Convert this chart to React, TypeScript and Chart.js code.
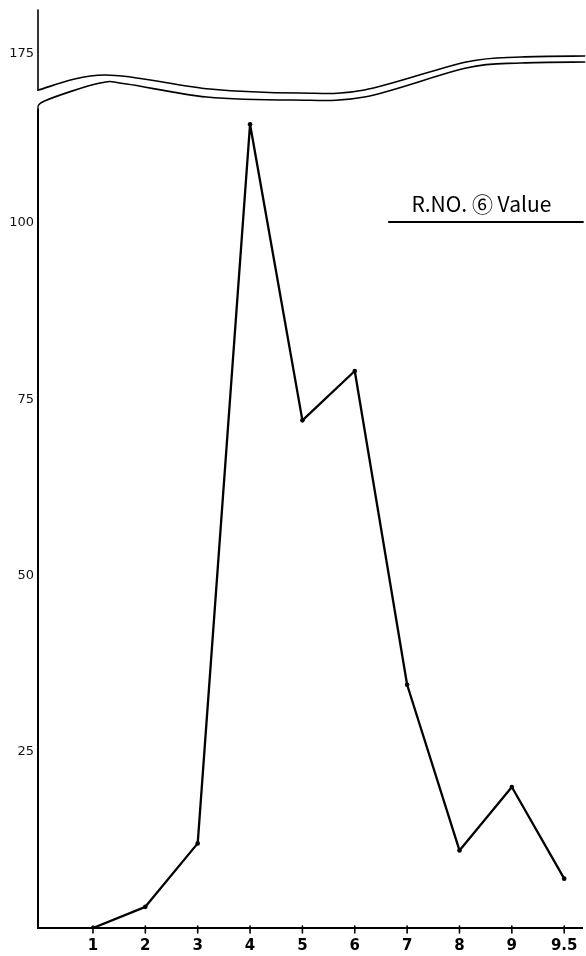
import React, { useEffect, useRef } from "react";
import { Chart, registerables } from "chart.js";

Chart.register(...registerables);

// ---- data ----
const X_LABELS = ["1", "2", "3", "4", "5", "6", "7", "8", "9", "9.5"];
const VALUES = [0, 3, 12, 114, 72, 79, 34.5, 11, 20, 7];
const Y_TICK_VALUES = [25, 50, 75, 100, 175];
const TITLE = "R.NO. ⑥ Value";
// axis break: values above BREAK_AT are drawn shifted down by BREAK_SHIFT
const BREAK_AT = 120;
const BREAK_SHIFT = 51;

const toAxis = (v: number) => (v > BREAK_AT ? v - BREAK_SHIFT : v);
const fromAxis = (v: number) => (v > 118 ? v + BREAK_SHIFT : v);

// break wave shapes: [fraction of chart width, offset below chart top]
const WAVE_UPPER: [number, number][] = [
  [0, 80], [0.123, 65], [0.316, 79], [0.48, 83], [0.6, 80], [0.787, 52], [0.888, 47], [1.005, 46],
];
const WAVE_LOWER: [number, number][] = [
  [0, 100], [0.012, 91], [0.114, 73], [0.163, 74], [0.31, 87], [0.468, 90], [0.6, 87], [0.787, 58], [0.888, 53], [1.005, 52],
];

function smoothPath(ctx: CanvasRenderingContext2D, pts: [number, number][]) {
  ctx.beginPath();
  ctx.moveTo(pts[0][0], pts[0][1]);
  for (let i = 0; i < pts.length - 1; i++) {
    const p0 = pts[Math.max(0, i - 1)];
    const p1 = pts[i];
    const p2 = pts[i + 1];
    const p3 = pts[Math.min(pts.length - 1, i + 2)];
    const c1x = p1[0] + (p2[0] - p0[0]) / 6;
    const c1y = p1[1] + (p2[1] - p0[1]) / 6;
    const c2x = p2[0] - (p3[0] - p1[0]) / 6;
    const c2y = p2[1] - (p3[1] - p1[1]) / 6;
    ctx.bezierCurveTo(c1x, c1y, c2x, c2y, p2[0], p2[1]);
  }
  ctx.stroke();
}

const decorPlugin = {
  id: "decor",
  afterDraw(chart: any) {
    const { ctx, chartArea } = chart;
    const L = chartArea.left;
    const T = chartArea.top;
    const B = chartArea.bottom;
    const W = chartArea.right - chartArea.left;
    ctx.save();
    ctx.strokeStyle = "#000";
    ctx.lineCap = "round";
    ctx.lineJoin = "round";
    // y axis, upper piece and lower piece
    ctx.lineWidth = 1.6;
    ctx.beginPath();
    ctx.moveTo(L, T);
    ctx.lineTo(L, T + 80);
    ctx.stroke();
    ctx.lineWidth = 2;
    ctx.beginPath();
    ctx.moveTo(L, B);
    ctx.lineTo(L, T + 100);
    ctx.stroke();
    // break waves
    ctx.lineWidth = 1.6;
    const map = (w: [number, number][]) => w.map(([f, o]) => [L + f * W, T + o] as [number, number]);
    smoothPath(ctx, map(WAVE_UPPER));
    smoothPath(ctx, map(WAVE_LOWER));

    // title with underline
    ctx.fillStyle = "#000";
    ctx.font = "21px 'Noto Sans CJK JP', 'DejaVu Sans', sans-serif";
    ctx.textAlign = "center";
    ctx.textBaseline = "middle";
    const cx = L + 0.815 * W;
    ctx.fillText(TITLE, cx, T + 194);
    ctx.lineWidth = 1.8;
    ctx.beginPath();
    ctx.moveTo(L + 0.645 * W, T + 212);
    ctx.lineTo(chartArea.right + 1, T + 212);
    ctx.stroke();

    // x axis tick marks
    const xs = chart.scales.x;
    ctx.lineWidth = 1.6;
    for (let i = 0; i < X_LABELS.length; i++) {
      const px = xs.getPixelForValue(i);
      ctx.beginPath();
      ctx.moveTo(px, B - 2);
      ctx.lineTo(px, B + 5);
      ctx.stroke();
    }
    ctx.restore();
  },
};

export default function App() {
  const ref = useRef<HTMLCanvasElement | null>(null);

  useEffect(() => {
    document.body.style.margin = "0";
    const canvas = ref.current;
    if (!canvas) return;
    const chart = new Chart(canvas, {
      type: "line",
      data: {
        datasets: [
          {
            data: VALUES.map((v, i) => ({ x: i, y: v })),
            borderColor: "#000",
            backgroundColor: "#000",
            borderWidth: 2.3,
            borderJoinStyle: "round",
            pointRadius: 2.3,
            pointBackgroundColor: "#000",
            pointBorderWidth: 0,
            tension: 0,
          },
        ],
      },
      options: {
        responsive: false,
        animation: false,
        devicePixelRatio: 1,
        layout: { padding: { left: 0, right: 3, top: 10, bottom: 0 } },
        plugins: { legend: { display: false }, tooltip: { enabled: false } },
        scales: {
          x: {
            type: "linear",
            min: -1.05,
            max: 9.34,
            afterBuildTicks: (scale: any) => {
              scale.ticks = X_LABELS.map((_, i) => ({ value: i }));
            },
            afterFit: (scale: any) => {
              scale.height = 28;
            },
            grid: { display: false },
            border: { display: true, color: "#000", width: 2 },
            ticks: {
              autoSkip: false,
              maxRotation: 0,
              padding: 1,
              color: "#000",
              font: { family: "'DejaVu Sans', sans-serif", size: 15, weight: "bold" },
              callback: (v: any) => X_LABELS[Math.round(v)] ?? "",
            },
          },
          y: {
            type: "linear",
            min: 0,
            max: 130.2,
            afterBuildTicks: (scale: any) => {
              scale.ticks = Y_TICK_VALUES.map((v) => ({ value: toAxis(v) }));
            },
            afterFit: (scale: any) => {
              scale.width = 38;
            },
            grid: { display: false },
            border: { display: false },
            ticks: {
              padding: -4,
              color: "#111",
              font: { family: "'DejaVu Sans', sans-serif", size: 13 },
              callback: (v: any) => String(Math.round(fromAxis(Number(v)))),
            },
          },
        },
      },
      plugins: [decorPlugin],
    } as any);
    return () => chart.destroy();
  }, []);

  return (
    <div style={{ width: 586, height: 956 }}>
      <canvas ref={ref} width={586} height={956} style={{ display: "block" }} />
    </div>
  );
}
